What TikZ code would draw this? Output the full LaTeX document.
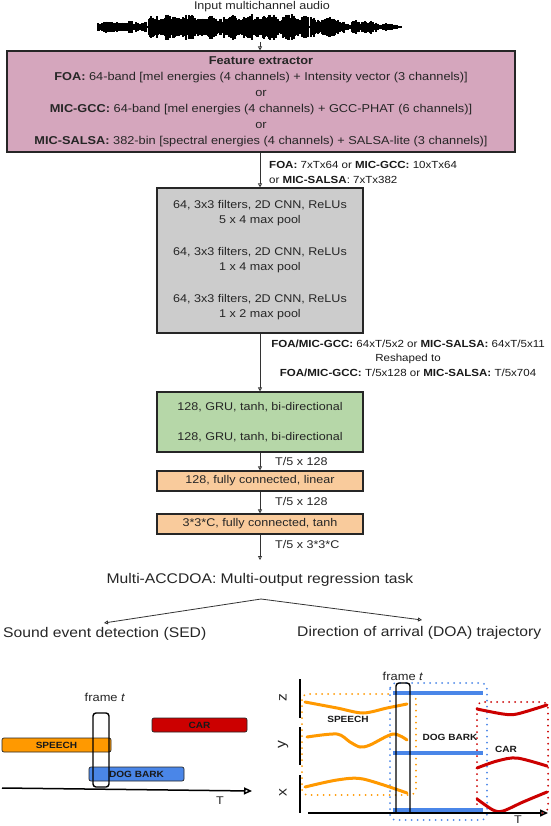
\documentclass[tikz,border=0pt]{standalone}
\usepackage{fontspec}
\setmainfont{Liberation Sans}[FakeStretch=1.12]
\usetikzlibrary{arrows.meta}
\definecolor{fepink}{RGB}{213,166,189}
\definecolor{cnngray}{RGB}{204,204,204}
\definecolor{grugreen}{RGB}{182,215,168}
\definecolor{fcorange}{RGB}{249,203,156}
\definecolor{sorange}{RGB}{255,153,0}
\definecolor{sblue}{RGB}{74,134,232}
\definecolor{sred}{RGB}{204,0,0}
\begin{document}
\begin{tikzpicture}[x=1pt,y=-1pt,
  box/.style={draw=black!85, line width=1.1pt, minimum width=206pt, inner sep=0pt, align=center, text=black!85, font=\fontsize{11.2}{15}\selectfont},
  arr/.style={draw=black!80, line width=0.8pt, -{Triangle[open,length=4pt,width=4pt]}},
  lbl/.style={inner sep=0pt, text=black!90, font=\fontsize{10.3}{14.5}\selectfont},
  nlbl/.style={inner sep=0pt, text=black!85, font=\fontsize{11.2}{13}\selectfont},
  big/.style={inner sep=0pt, text=black!85, font=\fontsize{14}{16}\selectfont},
  bar/.style={draw=black!85, line width=0.7pt, rounded corners=2pt, inner sep=0pt, minimum height=14pt, font=\bfseries\fontsize{9}{10}\selectfont, text=black!90},
  framebox/.style={draw=black, line width=1.4pt, rounded corners=3pt, inner sep=0pt},
  axisline/.style={draw=black, line width=1.5pt},
  axisarr/.style={draw=black, line width=1.5pt, -{Triangle[open,length=8pt,width=7pt,line width=1.5pt]}},
  traj/.style={line width=3pt, line cap=round},
  dotbox/.style={line width=2pt, dash pattern=on 0pt off 6pt, line cap=round, rounded corners=6pt},
  evt/.style={inner sep=0pt, font=\bfseries\fontsize{9}{10}\selectfont, text=black!90}
]
\useasboundingbox (0,0) rectangle (550,826);
\fill[white] (0,0) rectangle (550,826);

% ---------- input waveform ----------
\node[nlbl] (inlbl) at (262,7) {Input multichannel audio};
\draw[line width=1.2pt] (97,27) -- (402,27);
\pgfmathsetseed{12345}
\foreach \i in {0,...,300} {
  \pgfmathsetmacro\xx{98+1.0*\i}
  \pgfmathsetmacro\env{(\xx<147)*6 + (\xx>=149)*(\xx<309)*13.5 + (\xx>=311)*(\xx<345)*10 + (\xx>=345)*(\xx<352)*3.5 + (\xx>=352)*9.5*(1-(\xx-352)/60)}
  \pgfmathsetmacro\aa{\env*(0.5+0.5*rnd)*(0.6+0.4*abs(sin(\xx*9)))}
  \draw[line width=1.4pt, black] (\xx,27-\aa) -- (\xx,27+1.05*\aa);
}
\coordinate (wv) at (260,42);

% ---------- feature extractor ----------
\node[box, fill=fepink, minimum width=508pt, minimum height=101pt, font=\fontsize{11.4}{16}\selectfont] (fe) at (261,101.5)
 {\textbf{Feature extractor}\\
  \textbf{FOA:} 64-band [mel energies (4 channels) + Intensity vector (3 channels)]\\
  or\\
  \textbf{MIC-GCC:} 64-band [mel energies (4 channels) + GCC-PHAT (6 channels)]\\
  or\\
  \textbf{MIC-SALSA:} 382-bin [spectral energies (4 channels) + SALSA-lite (3 channels)]};

% ---------- CNN ----------
\node[box, fill=cnngray, minimum height=145pt] (cnn) at (260,260.5)
 {64, 3x3 filters, 2D CNN, ReLUs\\5 x 4 max pool\\[17pt]
  64, 3x3 filters, 2D CNN, ReLUs\\1 x 4 max pool\\[17pt]
  64, 3x3 filters, 2D CNN, ReLUs\\1 x 2 max pool};

% ---------- GRU / FC ----------
\node[box, fill=grugreen, minimum height=60pt] (gru) at (260,422)
 {128, GRU, tanh, bi-directional\\[15pt]128, GRU, tanh, bi-directional};
\node[box, fill=fcorange, minimum height=20pt] (fc1) at (260,481) {128, fully connected, linear};
\node[box, fill=fcorange, minimum height=20pt] (fc2) at (260,524) {3*3*C, fully connected, tanh};

% ---------- connectors and shape labels ----------
\draw[arr] (wv) -- (wv |- fe.north);
\draw[arr] (fe.south -| cnn.north) -- (cnn.north);
\draw[arr] (cnn.south) -- (gru.north);
\draw[arr] (gru.south) -- (fc1.north);
\draw[arr] (fc1.south) -- (fc2.north);
\coordinate (tip) at (260,560);
\draw[arr] (fc2.south) -- (tip);

\node[lbl, anchor=west] (s1a) at (269,165) {\textbf{FOA:} 7xTx64 or \textbf{MIC-GCC:} 10xTx64};
\node[lbl, anchor=west] (s1b) at (269,180) {or \textbf{MIC-SALSA}: 7xTx382};
\node[lbl, align=center] (s2) at (408,358)
 {\textbf{FOA/MIC-GCC:} 64xT/5x2 or \textbf{MIC-SALSA:} 64xT/5x11\\
  Reshaped to\\
  \textbf{FOA/MIC-GCC:} T/5x128 or \textbf{MIC-SALSA:} T/5x704};
\node[nlbl, anchor=west] (s3) at (275,461) {T/5 x 128};
\node[nlbl, anchor=west] (s4) at (275,501) {T/5 x 128};
\node[nlbl, anchor=west] (s5) at (275,544) {T/5 x 3*3*C};

% ---------- task split ----------
\node[big] (task) at (260,580) {Multi-ACCDOA: Multi-output regression task};
\coordinate (apex) at (261,599);
\coordinate (sedend) at (104,623);
\coordinate (doaend) at (422,620);
\draw[arr] (apex) -- (sedend);
\draw[arr] (apex) -- (doaend);
\node[big, anchor=west] (sedt) at (3,634) {Sound event detection (SED)};
\node[big, anchor=west] (doat) at (297,633) {Direction of arrival (DOA) trajectory};

% ---------- SED panel ----------
\node[bar, fill=sred, minimum width=95pt] (car) at (199.5,725) {CAR};
\node[bar, fill=sorange, minimum width=109pt] (speech) at (56.5,745) {SPEECH};
\node[bar, fill=sblue, minimum width=95pt] (dog) at (136.5,774) {DOG BARK};
\node[framebox, minimum width=16pt, minimum height=74pt] (fr1) at (101,750) {};
\node[nlbl, font=\fontsize{11.5}{13}\selectfont] (fr1l) at (105,697) {frame \textit{t}};
\coordinate (ta0) at (2,788);
\coordinate (ta1) at (252,791);
\draw[axisarr] (ta0) -- (ta1);
\node[nlbl] (tlbl1) at (220,801) {T};

% ---------- DOA panel ----------
\draw[dotbox, sorange] (302,694) rectangle (416,795);
\draw[dotbox, sblue] (390,683) rectangle (487,820);
\draw[dotbox, sred] (477,702) rectangle (548,813);

\draw[traj, sorange] plot[smooth] coordinates {(305,702) (337,708) (363,713) (387,708) (407,704)};
\draw[traj, sorange] plot[smooth] coordinates {(307,737) (337,734) (350,742) (360,747) (370,745) (393,734) (407,740)};
\draw[traj, sorange] plot[smooth] coordinates {(305,787) (337,780) (363,779) (407,793)};

\draw[traj, sred] plot[smooth] coordinates {(477,709) (503,714) (517,714) (547,705)};
\draw[traj, sred] plot[smooth] coordinates {(477,768) (497,761) (517,758) (547,766)};
\draw[traj, sred] plot[smooth] coordinates {(477,799) (493,810) (503,811) (523,802) (547,792)};

\draw[line width=3.5pt, sblue] (393,693) -- (483,693);
\draw[line width=3.5pt, sblue] (393,753) -- (483,753);
\draw[line width=3.5pt, sblue] (393,810) -- (483,810);

\draw[draw=black, line width=1.4pt, rounded corners=3pt] (396,813) -- (396,683) -- (410,683) -- (410,813);
\node[nlbl, font=\fontsize{11.5}{13}\selectfont] (fr2l) at (403,676) {frame \textit{t}};

\node[evt] (spl) at (348,719) {SPEECH};
\node[evt] (dgl) at (450,737) {DOG BARK};
\node[evt] (crl) at (506,749) {CAR};

\coordinate (za) at (300,679); \coordinate (zb) at (300,718);
\coordinate (ya) at (300,727); \coordinate (yb) at (300,765);
\coordinate (xa) at (300,775); \coordinate (xb) at (300,813);
\draw[axisline] (za) -- (zb);
\draw[axisline] (ya) -- (yb);
\draw[axisline] (xa) -- (xb);
\node[big, rotate=90] (zl) at (283,698) {z};
\node[big, rotate=90] (yl) at (283,745) {y};
\node[big, rotate=90] (xl) at (283,793) {x};
\coordinate (da0) at (308,813);
\coordinate (da1) at (548,813);
\draw[axisarr] (da0) -- (da1);
\node[nlbl, anchor=north] (tlbl2) at (518,815.5) {T};
\end{tikzpicture}
\end{document}
